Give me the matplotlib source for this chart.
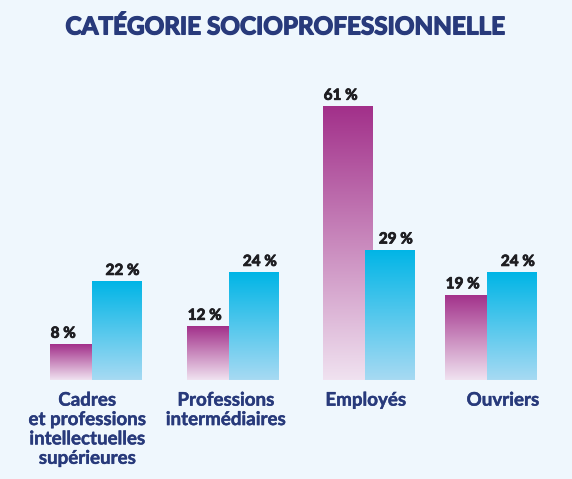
import numpy as np
import matplotlib.pyplot as plt
import matplotlib.patheffects as pe
from matplotlib.colors import LinearSegmentedColormap


categories = [
    "Cadres\net professions\nintellectuelles\nsupérieures",
    "Professions\nintermédiaires",
    "Employés",
    "Ouvriers",
]
series_a = [8, 12, 61, 19]   # purple
series_b = [22, 24, 29, 24]  # blue

# layout (group positions are slightly uneven in the reference)
group_pos = np.array([0.0, 1.004, 2.0, 2.894])
label_pos = np.array([0.09, 1.105, 2.13, 3.135])
bar_w = 0.366
offset = 0.308

BG = "#eff7fd"
NAVY = "#283a7b"
TXT = "#1e1e22"
FONT = ["Lato", "DejaVu Sans"]

purple_cmap = LinearSegmentedColormap.from_list("p", ["#f0e2f0", "#a2308a"])
blue_cmap = LinearSegmentedColormap.from_list("b", ["#a7daf3", "#00b5e6"])


def gradient_bar(ax, x, h, cmap, z):
    rect = ax.bar(x, h, width=bar_w, color="none", edgecolor="none", zorder=z)[0]
    grad = np.linspace(0, 1, 256).reshape(-1, 1)
    im = ax.imshow(grad, cmap=cmap, origin="lower", aspect="auto",
                   extent=(x - bar_w / 2, x + bar_w / 2, 0, h), zorder=z,
                   interpolation="bilinear")
    im.set_clip_path(rect)
    return rect


def thick(color, w):
    return [pe.withStroke(linewidth=w, foreground=color)]


fig = plt.figure(figsize=(5.72, 4.79), dpi=100, facecolor=BG)
ax = fig.add_axes([0, 99 / 479, 1, 320 / 479])
ax.set_facecolor(BG)

for i in range(len(categories)):
    xa = group_pos[i]
    xb = group_pos[i] + offset
    gradient_bar(ax, xa, series_a[i], purple_cmap, 2)
    gradient_bar(ax, xb, series_b[i], blue_cmap, 3)
    ax.text(xa - bar_w / 2 + 0.005, series_a[i] + 0.75, f"{series_a[i]} %", ha="left", va="bottom",
            fontsize=11, fontweight="bold", color=TXT, family=FONT, zorder=5,
            path_effects=thick(TXT, 0.6))
    ax.text(xb + bar_w / 2 - 0.015, series_b[i] + 0.75, f"{series_b[i]} %", ha="right", va="bottom",
            fontsize=11, fontweight="bold", color=TXT, family=FONT, zorder=5,
            path_effects=thick(TXT, 0.6))
    ax.text(label_pos[i], -2.6, categories[i], ha="center", va="top", fontsize=13.5,
            fontweight="bold", color=NAVY, family=FONT, linespacing=1.17,
            path_effects=thick(NAVY, 0.3))

ax.hlines(-0.25, group_pos[0] - bar_w / 2, group_pos[-1] + offset + bar_w / 2,
          color="white", linewidth=2.2, zorder=4)

ax.set_xlim(-0.549, 3.641)
ax.set_ylim(0, 320 / 4.49)
ax.axis("off")

fig.text(0.498, 0.944, "CATÉGORIE SOCIOPROFESSIONNELLE", ha="center", va="center",
         fontsize=17.5, fontweight="bold", color=NAVY, family=FONT,
         path_effects=thick(NAVY, 1.0))

fig.savefig("out.png", dpi=100, facecolor=BG)
